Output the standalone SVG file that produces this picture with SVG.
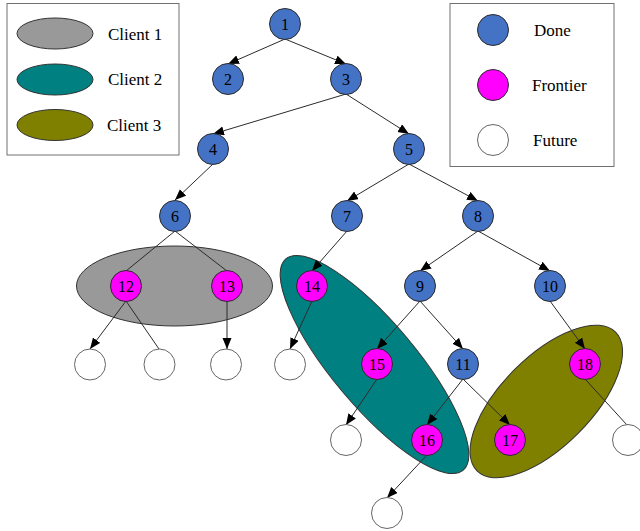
<svg xmlns="http://www.w3.org/2000/svg" width="640" height="531" viewBox="0 0 640 531">
<style>
.done{fill:#4472C4;stroke:#2b2b2b;stroke-width:1}
.front{fill:#FF00FF;stroke:#2b2b2b;stroke-width:1}
.fut{fill:#ffffff;stroke:#666666;stroke-width:1}
.lbl{font-family:"Liberation Serif","Times New Roman",serif;font-size:16px;fill:#000;text-anchor:middle}
.leg{font-family:"Liberation Serif","Times New Roman",serif;font-size:17px;fill:#000}
.box{fill:#ffffff;stroke:#707070;stroke-width:1}
.e{stroke:#2b2b2b;stroke-width:1;fill:none}
.a{marker-end:url(#arr)}
.cl{stroke:#333333;stroke-width:1}
</style>
<defs>
<marker id="arr" markerUnits="userSpaceOnUse" markerWidth="12" markerHeight="10" refX="11" refY="4.5" orient="auto">
<path d="M0,0 L11,4.5 L0,9 z" fill="#000"/>
</marker>
</defs>
<rect width="640" height="531" fill="#ffffff"/>

<g id="legend-clients">
<rect class="box" x="7" y="3.5" width="172" height="151.5"/>
<ellipse class="cl" cx="55" cy="33.5" rx="38" ry="15.5" fill="#999999"/>
<text class="leg" x="108" y="39.5">Client 1</text>
<ellipse class="cl" cx="55" cy="79.5" rx="38" ry="15.5" fill="#008080"/>
<text class="leg" x="108" y="85">Client 2</text>
<ellipse class="cl" cx="55" cy="125" rx="38" ry="15.5" fill="#808000"/>
<text class="leg" x="107" y="130.5">Client 3</text>
</g>

<g id="legend-status">
<rect class="box" x="450" y="3.5" width="164" height="163"/>
<circle class="done" cx="493" cy="30" r="15.5"/>
<text class="leg" x="534" y="36">Done</text>
<circle class="front" cx="493" cy="85" r="15.5"/>
<text class="leg" x="532" y="91">Frontier</text>
<circle class="fut" cx="493" cy="140" r="15.5"/>
<text class="leg" x="533" y="146">Future</text>
</g>

<g id="clusters">
<ellipse id="client1" class="cl" cx="174.5" cy="286" rx="98" ry="40" fill="#999999"/>
<ellipse id="client2" class="cl" cx="374.5" cy="364.5" rx="138" ry="42" fill="#008080" transform="rotate(50 374.5 364.5)"/>
<ellipse id="client3" class="cl" cx="546.3" cy="401.5" rx="98" ry="45" fill="#808000" transform="rotate(-45 546.3 401.5)"/>
</g>

<g id="connectors">
<line class="e a" x1="285" y1="39" x2="228" y2="64"/>
<line class="e a" x1="285" y1="39" x2="346" y2="64"/>
<line class="e a" x1="346" y1="94" x2="213" y2="134"/>
<line class="e a" x1="346" y1="94" x2="409" y2="134"/>
<line class="e a" x1="213" y1="164" x2="175" y2="200"/>
<line class="e a" x1="409" y1="164" x2="347" y2="201"/>
<line class="e a" x1="409" y1="164" x2="478" y2="201"/>
<line class="e" x1="175" y1="231" x2="126" y2="271"/>
<line class="e" x1="175" y1="231" x2="227" y2="271"/>
<line class="e a" x1="347" y1="231" x2="312" y2="271"/>
<line class="e a" x1="478" y1="231" x2="420" y2="271"/>
<line class="e a" x1="478" y1="231" x2="550" y2="271"/>
<line class="e a" x1="126" y1="301" x2="90" y2="349"/>
<line class="e" x1="126" y1="301" x2="159" y2="349"/>
<line class="e a" x1="227" y1="301" x2="227" y2="349"/>
<line class="e a" x1="312" y1="301" x2="290" y2="349"/>
<line class="e a" x1="420" y1="301" x2="377" y2="349"/>
<line class="e a" x1="420" y1="301" x2="463" y2="349"/>
<line class="e a" x1="550" y1="301" x2="585" y2="349"/>
<line class="e a" x1="377" y1="379" x2="346" y2="425"/>
<line class="e a" x1="463" y1="379" x2="427" y2="425"/>
<line class="e a" x1="463" y1="379" x2="510" y2="425"/>
<line class="e" x1="585" y1="379" x2="627" y2="425"/>
<line class="e a" x1="427" y1="455" x2="387" y2="498"/>
</g>

<g id="n1"><circle class="done" cx="285" cy="24" r="15.5"/><text class="lbl" x="285" y="29.5">1</text></g>
<g id="n2"><circle class="done" cx="228" cy="79" r="15.5"/><text class="lbl" x="228" y="84.5">2</text></g>
<g id="n3"><circle class="done" cx="346" cy="79" r="15.5"/><text class="lbl" x="346" y="84.5">3</text></g>
<g id="n4"><circle class="done" cx="213" cy="149" r="15.5"/><text class="lbl" x="213" y="154.5">4</text></g>
<g id="n5"><circle class="done" cx="409" cy="149" r="15.5"/><text class="lbl" x="409" y="154.5">5</text></g>
<g id="n6"><circle class="done" cx="175" cy="216" r="15.5"/><text class="lbl" x="175" y="221.5">6</text></g>
<g id="n7"><circle class="done" cx="347" cy="216" r="15.5"/><text class="lbl" x="347" y="221.5">7</text></g>
<g id="n8"><circle class="done" cx="478" cy="216" r="15.5"/><text class="lbl" x="478" y="221.5">8</text></g>
<g id="n9"><circle class="done" cx="420" cy="286" r="15.5"/><text class="lbl" x="420" y="291.5">9</text></g>
<g id="n10"><circle class="done" cx="550" cy="286" r="15.5"/><text class="lbl" x="550" y="291.5">10</text></g>
<g id="n11"><circle class="done" cx="463" cy="364" r="15.5"/><text class="lbl" x="463" y="369.5">11</text></g>
<g id="n12"><circle class="front" cx="126" cy="286" r="15.5"/><text class="lbl" x="126" y="291.5">12</text></g>
<g id="n13"><circle class="front" cx="227" cy="286" r="15.5"/><text class="lbl" x="227" y="291.5">13</text></g>
<g id="n14"><circle class="front" cx="312" cy="286" r="15.5"/><text class="lbl" x="312" y="291.5">14</text></g>
<g id="n15"><circle class="front" cx="377" cy="364" r="15.5"/><text class="lbl" x="377" y="369.5">15</text></g>
<g id="n16"><circle class="front" cx="427" cy="440" r="15.5"/><text class="lbl" x="427" y="445.5">16</text></g>
<g id="n17"><circle class="front" cx="510" cy="440" r="15.5"/><text class="lbl" x="510" y="445.5">17</text></g>
<g id="n18"><circle class="front" cx="585" cy="364" r="15.5"/><text class="lbl" x="585" y="369.5">18</text></g>
<g id="f1"><circle class="fut" cx="90" cy="364.5" r="15.5"/></g>
<g id="f2"><circle class="fut" cx="159.5" cy="364.5" r="15.5"/></g>
<g id="f3"><circle class="fut" cx="226" cy="364.5" r="15.5"/></g>
<g id="f4"><circle class="fut" cx="290" cy="364.5" r="15.5"/></g>
<g id="f5"><circle class="fut" cx="346" cy="440" r="15.5"/></g>
<g id="f6"><circle class="fut" cx="628" cy="440" r="15.5"/></g>
<g id="f7"><circle class="fut" cx="387" cy="513" r="15.5"/></g>
</svg>
